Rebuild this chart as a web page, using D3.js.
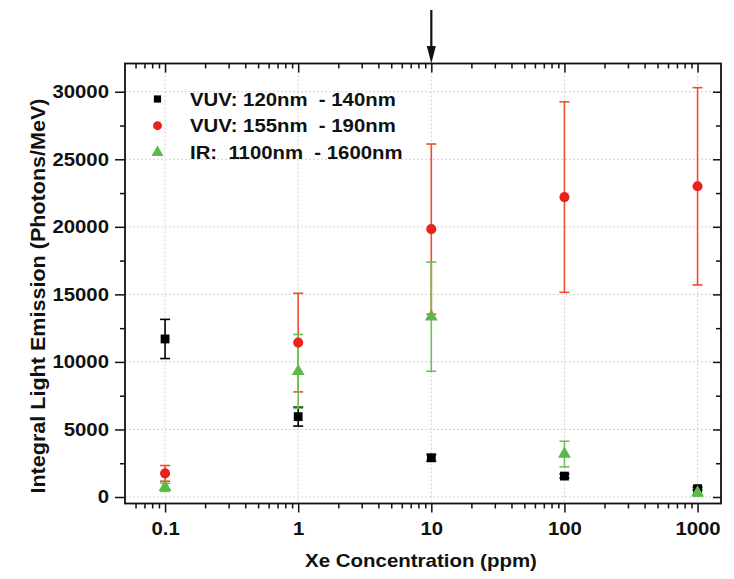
<!DOCTYPE html>
<html><head><meta charset="utf-8">
<script src="https://cdn.jsdelivr.net/npm/d3@7"></script>
<style>
body{margin:0;background:#fff}
text{font-family:"Liberation Sans",Arial,Helvetica,sans-serif;font-weight:bold;fill:#111}
</style>
</head><body>
<svg id="chart" width="734" height="579"></svg>
<script>
// ---- data ----
const concentrations = [0.1, 1, 10, 100, 1000];
const vuv120Values = [11700, 5950, 2900, 1550, 620];
const vuv120Errors = [1450, 700, 250, 150, 100];
const vuv155Values = [1750, 11430, 19830, 22200, 23000];
const vuv155Errors = [580, 3650, 6300, 7050, 7300];
const irValues = [720, 9300, 13350, 3180, 320];
const irErrors = [300, 2730, 4040, 950, 250];
const seriesNames = ["VUV: 120nm  - 140nm", "VUV: 155nm  - 190nm", "IR:  1100nm  - 1600nm"];
const xTickValues = [0.1, 1, 10, 100, 1000];
const xTickLabels = ["0.1", "1", "10", "100", "1000"];
const yTickValues = [0, 5000, 10000, 15000, 20000, 25000, 30000];
const yMinorTickValues = [2500, 7500, 12500, 17500, 22500, 27500];
const markedConcentration = 10;
const xTitle = "Xe Concentration (ppm)";
const yTitle = "Integral Light Emission (Photons/MeV)";

const svg = d3.select("#chart");
const L = 125, R = 721, T = 63.5, B = 503.5;
const x = d3.scaleLog().domain([0.05, 1500]).range([L, R]);
const y = d3.scaleLinear().domain([-480, 32090]).range([B, T]);
const SX = 1.1;

const xMinor = [];
[0.01, 0.1, 1, 10, 100, 1000].forEach(d => { for (let k = 2; k <= 9; k++) { const v = k * d; if (v > 0.0501 && v < 1500) xMinor.push(v); } });

// grid
const grid = svg.append("g").attr("stroke", "#d2d2d2").attr("stroke-width", 1).attr("stroke-dasharray", "2,2");
grid.selectAll(".gx").data(xTickValues).enter().append("line")
  .attr("x1", d => x(d)).attr("x2", d => x(d)).attr("y1", T).attr("y2", B);
grid.selectAll(".gy").data(yTickValues).enter().append("line")
  .attr("y1", d => y(d)).attr("y2", d => y(d)).attr("x1", L).attr("x2", R);

function styleAxis(g) { g.select(".domain").remove(); g.selectAll("line").attr("stroke", "#111").attr("stroke-width", 1.5); }

// bottom axis
const bx = svg.append("g").attr("transform", `translate(0,${B})`)
  .call(d3.axisBottom(x).tickValues(xTickValues).tickSize(9).tickPadding(9).tickFormat((d, i) => xTickLabels[i]));
styleAxis(bx);
bx.selectAll("text").attr("font-size", 18.5).attr("transform", `scale(${SX},1)`).attr("fill", "#111");
const bxm = svg.append("g").attr("transform", `translate(0,${B})`)
  .call(d3.axisBottom(x).tickValues(xMinor).tickSize(5).tickFormat(""));
styleAxis(bxm);
// top axis (ticks inward)
const tx = svg.append("g").attr("transform", `translate(0,${T})`)
  .call(d3.axisTop(x).tickValues(xTickValues).tickSize(-9).tickFormat(""));
styleAxis(tx);
const txm = svg.append("g").attr("transform", `translate(0,${T})`)
  .call(d3.axisTop(x).tickValues(xMinor).tickSize(-5).tickFormat(""));
styleAxis(txm);
// left axis
const ly = svg.append("g").attr("transform", `translate(${L},0)`)
  .call(d3.axisLeft(y).tickValues(yTickValues).tickSize(10).tickFormat(d3.format("d")));
styleAxis(ly);
ly.selectAll("text").attr("font-size", 18.5).attr("x", 0).attr("transform", `translate(-16,0) scale(${SX},1)`).attr("fill", "#111");
const lym = svg.append("g").attr("transform", `translate(${L},0)`)
  .call(d3.axisLeft(y).tickValues(yMinorTickValues).tickSize(5).tickFormat(""));
styleAxis(lym);
// right axis (ticks inward)
const ry = svg.append("g").attr("transform", `translate(${R},0)`)
  .call(d3.axisRight(y).tickValues(yTickValues).tickSize(-8).tickFormat(""));
styleAxis(ry);
const rym = svg.append("g").attr("transform", `translate(${R},0)`)
  .call(d3.axisRight(y).tickValues(yMinorTickValues).tickSize(-5).tickFormat(""));
styleAxis(rym);

// frame
svg.append("rect").attr("x", L).attr("y", T).attr("width", R - L).attr("height", B - T)
  .attr("fill", "none").attr("stroke", "#111").attr("stroke-width", 1.8);

// titles
svg.append("text").attr("transform", `translate(${(L + R) / 2 - 2},566.5) scale(${SX},1)`)
  .attr("text-anchor", "middle").attr("font-size", 18.6).text(xTitle);
svg.append("text").attr("transform", `translate(45,296) rotate(-90) scale(${SX},1)`)
  .attr("text-anchor", "middle").attr("font-size", 19.6).text(yTitle);

// series
const series = [
  { name: seriesNames[0], vals: vuv120Values, errs: vuv120Errors, color: "#000", ecolor: "#000", shape: "square" },
  { name: seriesNames[1], vals: vuv155Values, errs: vuv155Errors, color: "#e8231c", ecolor: "#f04d2b", shape: "circle" },
  { name: seriesNames[2], vals: irValues, errs: irErrors, color: "#5cb84a", ecolor: "#6cc054", shape: "triangle" }
];
const symbolFor = s => s === "square" ? d3.symbolSquare : s === "circle" ? d3.symbolCircle : d3.symbolTriangle;
const sizeFor = s => s === "square" ? 78 : s === "circle" ? 80 : 72;

const capW = 5;
series.forEach(s => {
  const g = svg.append("g").attr("stroke", s.ecolor).attr("stroke-width", 1.6);
  concentrations.forEach((c, i) => {
    const cx = x(c), y1 = y(s.vals[i] + s.errs[i]), y0 = y(s.vals[i] - s.errs[i]);
    g.append("line").attr("x1", cx).attr("x2", cx).attr("y1", y1).attr("y2", y0);
    g.append("line").attr("x1", cx - capW).attr("x2", cx + capW).attr("y1", y1).attr("y2", y1);
    g.append("line").attr("x1", cx - capW).attr("x2", cx + capW).attr("y1", y0).attr("y2", y0);
  });
});
series.forEach(s => {
  svg.append("g").selectAll("path").data(concentrations).enter().append("path")
    .attr("d", d3.symbol().type(symbolFor(s.shape)).size(sizeFor(s.shape)))
    .attr("transform", (c, i) => `translate(${x(c)},${y(s.vals[i])})`)
    .attr("fill", s.color);
});

// legend
const legRows = [99, 125.7, 152.5];
series.forEach((s, i) => {
  svg.append("path").attr("d", d3.symbol().type(symbolFor(s.shape)).size(s.shape === "square" ? 52 : 62))
    .attr("transform", `translate(157.5,${legRows[i]})`).attr("fill", s.color);
  svg.append("text").attr("transform", `translate(190,${legRows[i] + 6.7}) scale(${SX},1)`)
    .attr("font-size", 18.5).attr("xml:space", "preserve").style("white-space", "pre").text(s.name);
});

// arrow marking 10 ppm
const ax = x(markedConcentration);
svg.append("line").attr("x1", ax).attr("x2", ax).attr("y1", 10).attr("y2", 50).attr("stroke", "#111").attr("stroke-width", 2.2);
svg.append("path").attr("d", `M${ax - 4.5},46 L${ax + 4.5},46 L${ax},${T} Z`).attr("fill", "#111");
</script>
</body></html>
